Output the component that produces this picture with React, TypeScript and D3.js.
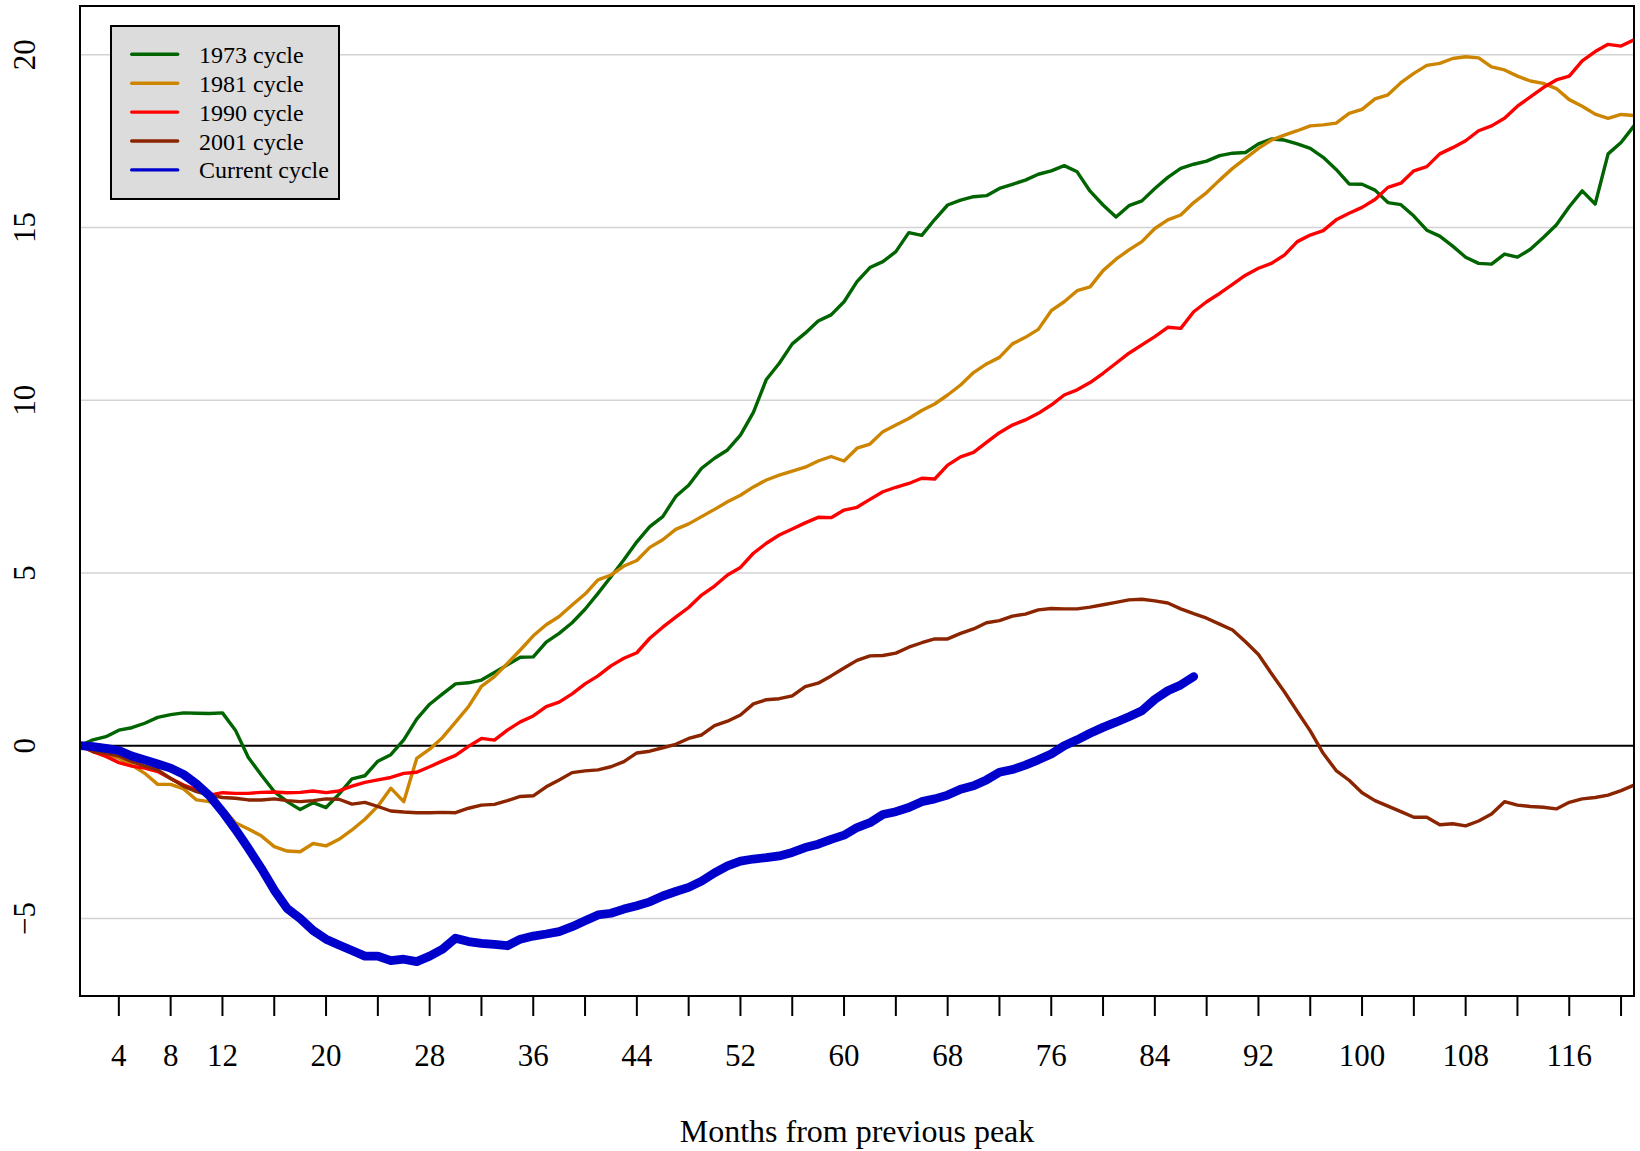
import React from "react";
import * as d3 from "d3";

const cycle1973: number[] = [
  0, 0.17, 0.26, 0.45, 0.52, 0.65, 0.82, 0.9, 0.95, 0.94,
  0.93, 0.95, 0.45, -0.34, -0.85, -1.33, -1.62, -1.85, -1.65, -1.79,
  -1.4, -0.96, -0.87, -0.45, -0.26, 0.17, 0.77, 1.2, 1.5, 1.79,
  1.82, 1.9, 2.12, 2.34, 2.56, 2.57, 3.0, 3.25, 3.56, 3.95,
  4.41, 4.89, 5.38, 5.9, 6.34, 6.63, 7.21, 7.54, 8.03, 8.32,
  8.56, 8.99, 9.65, 10.6, 11.07, 11.63, 11.94, 12.29, 12.47, 12.85,
  13.43, 13.84, 14.01, 14.3, 14.85, 14.77, 15.23, 15.65, 15.79, 15.89,
  15.92, 16.13, 16.25, 16.37, 16.54, 16.64, 16.79, 16.61, 16.05, 15.65,
  15.3, 15.63, 15.77, 16.13, 16.45, 16.71, 16.83, 16.92, 17.08, 17.15,
  17.17, 17.42, 17.56, 17.53, 17.42, 17.29, 17.03, 16.68, 16.26, 16.25,
  16.08, 15.72, 15.66, 15.33, 14.92, 14.75, 14.46, 14.14, 13.96, 13.94,
  14.23, 14.14, 14.37, 14.71, 15.07, 15.6, 16.06, 15.68, 17.13, 17.46,
  17.94,
];

const cycle1981: number[] = [
  0, -0.17, -0.24, -0.37, -0.56, -0.8, -1.12, -1.12, -1.25, -1.57,
  -1.62, -1.81, -2.23, -2.41, -2.61, -2.92, -3.05, -3.07, -2.83, -2.9,
  -2.71, -2.44, -2.13, -1.75, -1.23, -1.62, -0.37, -0.1, 0.24, 0.68,
  1.13, 1.72, 2.0, 2.38, 2.77, 3.18, 3.5, 3.74, 4.07, 4.39,
  4.8, 4.94, 5.2, 5.36, 5.74, 5.96, 6.26, 6.42, 6.63, 6.84,
  7.06, 7.25, 7.49, 7.69, 7.83, 7.95, 8.06, 8.24, 8.37, 8.24,
  8.61, 8.73, 9.09, 9.28, 9.47, 9.7, 9.89, 10.15, 10.44, 10.8,
  11.05, 11.24, 11.63, 11.82, 12.05, 12.59, 12.85, 13.17, 13.28, 13.75,
  14.08, 14.35, 14.59, 14.97, 15.22, 15.36, 15.72, 16.01, 16.37, 16.71,
  17.0, 17.29, 17.53, 17.67, 17.8, 17.94, 17.97, 18.02, 18.3, 18.42,
  18.72, 18.84, 19.19, 19.46, 19.69, 19.75, 19.89, 19.94, 19.91, 19.65,
  19.56, 19.38, 19.24, 19.17, 19.02, 18.7, 18.51, 18.28, 18.16, 18.27,
  18.24,
];

const cycle1990: number[] = [
  0, -0.17, -0.31, -0.49, -0.59, -0.65, -0.75, -0.95, -1.14, -1.28,
  -1.43, -1.36, -1.38, -1.38, -1.35, -1.34, -1.36, -1.35, -1.31, -1.36,
  -1.31, -1.17, -1.06, -0.99, -0.92, -0.8, -0.77, -0.61, -0.44, -0.28,
  -0.02, 0.21, 0.16, 0.45, 0.69, 0.86, 1.13, 1.26, 1.5, 1.79,
  2.02, 2.31, 2.53, 2.69, 3.11, 3.43, 3.72, 4.0, 4.36, 4.62,
  4.94, 5.16, 5.57, 5.86, 6.1, 6.27, 6.45, 6.61, 6.6, 6.82,
  6.9, 7.13, 7.35, 7.48, 7.59, 7.74, 7.72, 8.12, 8.36, 8.49,
  8.78, 9.06, 9.28, 9.43, 9.62, 9.86, 10.15, 10.3, 10.51, 10.78,
  11.07, 11.36, 11.6, 11.84, 12.11, 12.08, 12.56, 12.85, 13.09, 13.35,
  13.62, 13.82, 13.96, 14.2, 14.59, 14.78, 14.91, 15.22, 15.41, 15.58,
  15.81, 16.16, 16.28, 16.64, 16.76, 17.13, 17.31, 17.51, 17.8, 17.94,
  18.16, 18.51, 18.78, 19.05, 19.27, 19.38, 19.82, 20.09, 20.3, 20.25,
  20.43,
];

const cycle2001: number[] = [
  0, -0.17, -0.22, -0.3, -0.46, -0.59, -0.7, -0.95, -1.17, -1.33,
  -1.43, -1.5, -1.52, -1.57, -1.57, -1.54, -1.59, -1.62, -1.59, -1.54,
  -1.55, -1.69, -1.64, -1.76, -1.89, -1.92, -1.94, -1.94, -1.93, -1.94,
  -1.81, -1.72, -1.7, -1.59, -1.47, -1.45, -1.19, -0.99, -0.78, -0.73,
  -0.7, -0.61, -0.46, -0.21, -0.16, -0.06, 0.04, 0.21, 0.31, 0.58,
  0.71, 0.89, 1.21, 1.33, 1.36, 1.44, 1.71, 1.81, 2.02, 2.25,
  2.47, 2.6, 2.61, 2.68, 2.85, 2.98, 3.09, 3.09, 3.25, 3.38,
  3.56, 3.62, 3.75, 3.81, 3.93, 3.97, 3.96, 3.96, 4.01, 4.08,
  4.15, 4.22, 4.24, 4.19, 4.13, 3.96, 3.82, 3.69, 3.52, 3.35,
  3.01, 2.64, 2.09, 1.56, 0.99, 0.43, -0.22, -0.72, -1.0, -1.36,
  -1.59, -1.75, -1.91, -2.07, -2.07, -2.29, -2.26, -2.32, -2.18, -1.98,
  -1.62, -1.72, -1.76, -1.78, -1.83, -1.64, -1.54, -1.5, -1.43, -1.3,
  -1.14,
];

const cycleCurrent: number[] = [
  0, -0.03, -0.08, -0.14, -0.3, -0.41, -0.53, -0.65, -0.83, -1.11,
  -1.45, -1.91, -2.42, -2.97, -3.55, -4.18, -4.71, -5.0, -5.35, -5.6,
  -5.77, -5.93, -6.09, -6.09, -6.22, -6.18, -6.25, -6.09, -5.89, -5.57,
  -5.67, -5.72, -5.75, -5.79, -5.6, -5.51, -5.45, -5.38, -5.24, -5.07,
  -4.9, -4.85, -4.73, -4.63, -4.52, -4.35, -4.22, -4.1, -3.92, -3.68,
  -3.48, -3.34, -3.28, -3.24, -3.19, -3.09, -2.95, -2.85, -2.71, -2.59,
  -2.37, -2.23, -1.99, -1.91, -1.79, -1.62, -1.54, -1.43, -1.26, -1.16,
  -0.99, -0.77, -0.69, -0.56, -0.41, -0.24, 0.0, 0.17, 0.36, 0.53,
  0.68, 0.84, 1.01, 1.34, 1.59, 1.76, 2.0,
];

const seriesNames: string[] = ["1973 cycle", "1981 cycle", "1990 cycle", "2001 cycle", "Current cycle"];
const seriesColors: string[] = ["#006400", "#CD8500", "#FF0000", "#8B2500", "#0000CD"];
const seriesWidths: number[] = [3.4, 3.4, 3.4, 3.4, 8.8];

const xTicks: number[] = d3.range(4, 121, 4);
const xTickLabels: number[] = [4, 8, 12, 20, 28, 36, 44, 52, 60, 68, 76, 84, 92, 100, 108, 116];
const yTicks: number[] = [-5, 0, 5, 10, 15, 20];
const gridValues: number[] = [-5, 5, 10, 15, 20];

const W = 1640;
const H = 1151;
const plot = { left: 80, right: 1634, top: 6, bottom: 996 };
const FONT = "'Liberation Serif', 'Times New Roman', Times, serif";

export default function App() {
  const x = d3.scaleLinear().domain([1, 121]).range([plot.left, plot.right]);
  const y = d3.scaleLinear().domain([-7.245, 21.41]).range([plot.bottom, plot.top]);
  const allSeries = [cycle1973, cycle1981, cycle1990, cycle2001, cycleCurrent];
  const line = d3
    .line<number>()
    .x((_, i) => x(i + 1))
    .y((d) => y(d));

  const fmt = (v: number) => (v < 0 ? "\u2212" + Math.abs(v) : String(v));

  const legendX = 111;
  const legendY = 26;
  const legendW = 228;
  const legendH = 173;
  const rowY0 = 54.3;
  const rowStep = 28.9;

  return (
    <svg
      width={W}
      height={H}
      style={{ position: "absolute", left: 0, top: 0, background: "#fff" }}
      fontFamily={FONT}
    >
      <rect x={0} y={0} width={W} height={H} fill="#fff" />
      <defs>
        <clipPath id="plotclip">
          <rect x={plot.left} y={plot.top} width={plot.right - plot.left} height={plot.bottom - plot.top} />
        </clipPath>
      </defs>
      {gridValues.map((g) => (
        <line key={"g" + g} x1={plot.left} x2={plot.right} y1={y(g)} y2={y(g)} stroke="#d3d3d3" strokeWidth={1.5} />
      ))}
      <line x1={plot.left} x2={plot.right} y1={y(0)} y2={y(0)} stroke="#000" strokeWidth={2} />
      <g clipPath="url(#plotclip)">
        {allSeries.map((s, i) => (
          <path
            key={"s" + i}
            d={line(s) || ""}
            fill="none"
            stroke={seriesColors[i]}
            strokeWidth={seriesWidths[i]}
            strokeLinejoin="round"
            strokeLinecap="round"
          />
        ))}
      </g>
      <rect
        x={plot.left}
        y={plot.top}
        width={plot.right - plot.left}
        height={plot.bottom - plot.top}
        fill="none"
        stroke="#000"
        strokeWidth={2}
      />
      {xTicks.map((t) => (
        <line key={"t" + t} x1={x(t)} x2={x(t)} y1={plot.bottom} y2={plot.bottom + 20} stroke="#000" strokeWidth={2} />
      ))}
      {xTickLabels.map((t) => (
        <text key={"l" + t} x={x(t)} y={1065.5} textAnchor="middle" fontSize={31} fill="#000" fontFamily={FONT}>
          {t}
        </text>
      ))}
      {yTicks.map((t) => (
        <text
          key={"y" + t}
          transform={`translate(34.5,${y(t)}) rotate(-90)`}
          textAnchor="middle"
          fontSize={31}
          fill="#000"
          fontFamily={FONT}
        >
          {fmt(t)}
        </text>
      ))}
      <text
        x={(plot.left + plot.right) / 2}
        y={1142}
        textAnchor="middle"
        fontSize={32}
        fill="#000"
        fontFamily={FONT}
      >
        Months from previous peak
      </text>
      <rect x={legendX} y={legendY} width={legendW} height={legendH} fill="#dcdcdc" stroke="#000" strokeWidth={2} />
      {seriesNames.map((n, i) => (
        <g key={"lg" + i}>
          <line
            x1={131.7}
            x2={177.7}
            y1={rowY0 + i * rowStep}
            y2={rowY0 + i * rowStep}
            stroke={seriesColors[i]}
            strokeWidth={3.4}
            strokeLinecap="round"
          />
          <text x={199} y={rowY0 + i * rowStep + 8.5} fontSize={24} fill="#000" fontFamily={FONT}>
            {n}
          </text>
        </g>
      ))}
    </svg>
  );
}
